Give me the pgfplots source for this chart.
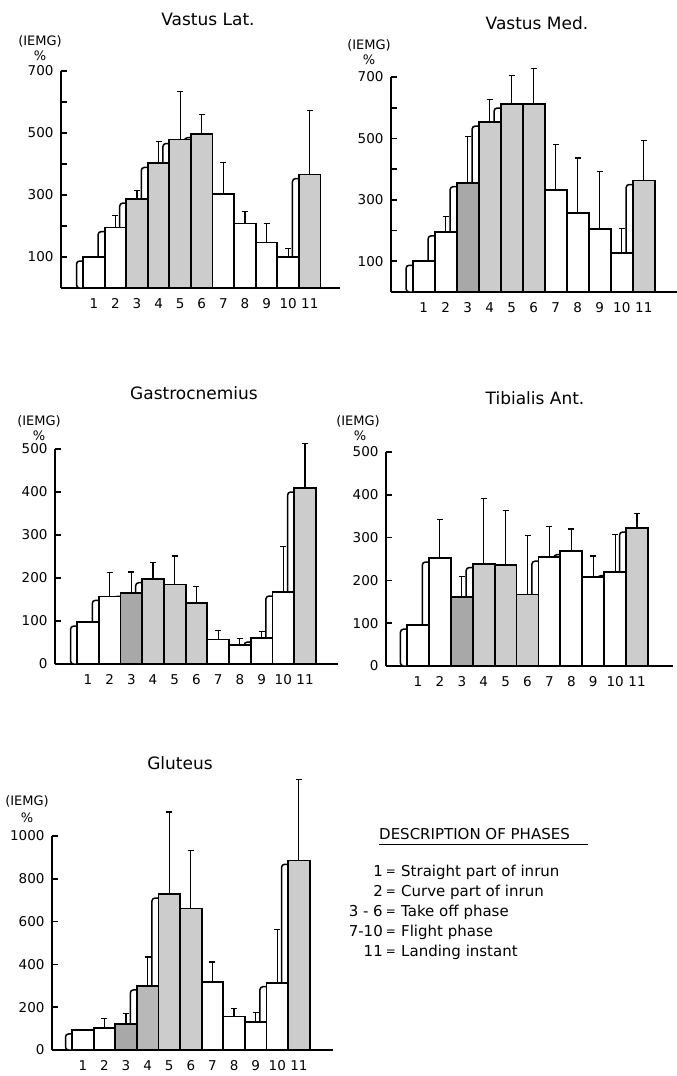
\documentclass[border=0pt]{standalone}
\usepackage{pgfplots}
\usepackage{pgfplotstable}
\pgfplotsset{compat=1.18}
\usepackage{fontspec}
\setmainfont{DejaVu Sans}

\newcommand\titlef{\fontsize{17}{20}\selectfont}
\newcommand\labf{\fontsize{13.5}{15}\selectfont}
\newcommand\unitf{\fontsize{13}{15}\selectfont}
\newcommand\legf{\fontsize{15}{18}\selectfont}

\definecolor{lgrey}{gray}{0.80}
\definecolor{dgrey}{gray}{0.66}
\definecolor{mgrey}{gray}{0.72}

\pgfplotsset{
  emg/.style={
    scale only axis, anchor=south west,
    axis x line=bottom, axis y line=left,
    axis line style={-, line width=2pt},
    xtick={1,...,11},
    x tick style={draw=none},
    tick align=inside,
    y tick style={line width=1.6pt, black},
    major tick length=6pt,
    ymin=0, clip=false,
    ticklabel style={font=\labf},
    /pgf/number format/assume math mode=true,
    /pgf/number format/1000 sep={},
    yticklabel style={xshift=-4pt},
    xticklabel style={yshift=-7pt},
  },
  shade/.style={ybar, bar width=1, bar shift=0, draw=black, fill=white, line width=1.5pt, rounded corners=3pt, forget plot},
  mbar/.style={ybar, bar width=1, bar shift=0, draw=black, line width=1.8pt, forget plot},
  errb/.style={draw=none, mark=none, forget plot,
    error bars/.cd, y dir=plus, y explicit, error mark=-,
    error bar style={draw=black, line width=1.2pt},
    error mark options={rotate=90, draw=black, line width=1.2pt, mark size=3pt}},
}

\pgfplotstableread{
x v
1 100
2 195
3 287
4 402
5 479
6 498
7 302
8 208
9 147
10 101
11 366
}\tVL
\pgfplotstableread{
x v
1 100
2 196
3 356
4 553
5 612
6 612
7 332
8 256
9 206
10 128
11 363
}\tVM
\pgfplotstableread{
x v
1 97
2 157
3 166
4 198
5 185
6 142
7 57
8 45
9 60
10 167
11 409
}\tGA
\pgfplotstableread{
x v
1 95
2 252
3 161
4 239
5 236
6 167
7 254
8 269
9 208
10 220
11 322
}\tTA
\pgfplotstableread{
x v
1 93
2 104
3 121
4 299
5 728
6 661
7 319
8 157
9 131
10 314
11 886
}\tGL

\begin{document}
\begin{tikzpicture}
\useasboundingbox (0pt,0pt) rectangle (677pt,-1076pt);

% ---------- Vastus Lat.
\begin{axis}[emg, at={(61pt,-288pt)}, width=279pt, height=217pt,
  xmin=-0.519, xmax=12.4, ymax=700,
  ytick={100,200,...,700}, yticklabels={100,,300,,500,,700}]
\addplot[shade] table[x expr=\thisrow{x}-0.3, y expr=\thisrow{v}-13] {\tVL};
\addplot[mbar, fill=white] table[x=x, y=v] {\tVL};
\addplot[mbar, fill=lgrey] coordinates {(3,287) (4,402) (5,479) (6,498) (11,366)};
\addplot[errb] coordinates {(2,195) +- (0,38) (3,287) +- (0,27) (4,402) +- (0,70)
  (5,479) +- (0,154) (6,498) +- (0,62) (7,302) +- (0,102) (8,208) +- (0,38)
  (9,147) +- (0,62) (10,101) +- (0,26) (11,366) +- (0,206)};
\end{axis}

% ---------- Vastus Med.
\begin{axis}[emg, at={(391pt,-292pt)}, width=286pt, height=215pt,
  xmin=-0.486, xmax=12.51, ymax=700,
  ytick={100,200,...,700}, yticklabels={100,,300,,500,,700}]
\addplot[shade] table[x expr=\thisrow{x}-0.3, y expr=\thisrow{v}-13] {\tVM};
\addplot[mbar, fill=white] table[x=x, y=v] {\tVM};
\addplot[mbar, fill=dgrey] coordinates {(3,356)};
\addplot[mbar, fill=lgrey] coordinates {(4,553) (5,612) (6,612) (11,363)};
\addplot[errb] coordinates {(2,196) +- (0,49) (3,356) +- (0,150) (4,553) +- (0,74)
  (5,612) +- (0,93) (6,612) +- (0,115) (7,332) +- (0,149) (8,256) +- (0,180)
  (9,206) +- (0,186) (10,128) +- (0,78) (11,363) +- (0,131)};
\end{axis}

% ---------- Gastrocnemius
\begin{axis}[emg, at={(55pt,-664pt)}, width=283pt, height=215pt,
  xmin=-0.516, xmax=12.52, ymax=500,
  ytick={0,100,...,500}]
\addplot[shade] table[x expr=\thisrow{x}-0.3, y expr=\thisrow{v}-9] {\tGA};
\addplot[mbar, fill=white] table[x=x, y=v] {\tGA};
\addplot[mbar, fill=dgrey] coordinates {(3,166)};
\addplot[mbar, fill=lgrey] coordinates {(4,198) (5,185) (6,142) (11,409)};
\addplot[errb] coordinates {(2,157) +- (0,55) (3,166) +- (0,48) (4,198) +- (0,38)
  (5,185) +- (0,66) (6,142) +- (0,38) (7,57) +- (0,21) (8,45) +- (0,15)
  (9,60) +- (0,15) (10,167) +- (0,107) (11,409) +- (0,103)};
\end{axis}

% ---------- Tibialis Ant.
\begin{axis}[emg, at={(386pt,-666pt)}, width=287pt, height=214pt,
  xmin=-0.46, xmax=12.64, ymax=500,
  ytick={0,100,...,500}]
\addplot[shade] table[x expr=\thisrow{x}-0.3, y expr=\thisrow{v}-9] {\tTA};
\addplot[mbar, fill=white] table[x=x, y=v] {\tTA};
\addplot[mbar, fill=dgrey] coordinates {(3,161)};
\addplot[mbar, fill=lgrey] coordinates {(4,239) (5,236) (6,167) (11,322)};
\addplot[errb] coordinates {(2,252) +- (0,91) (3,161) +- (0,49) (4,239) +- (0,152)
  (5,236) +- (0,127) (6,167) +- (0,138) (7,254) +- (0,72) (8,269) +- (0,51)
  (9,208) +- (0,49) (10,220) +- (0,87) (11,322) +- (0,35)};
\end{axis}

% ---------- Gluteus
\begin{axis}[emg, at={(52pt,-1050pt)}, width=281pt, height=214pt,
  xmin=-0.426, xmax=12.58, ymax=1000,
  ytick={0,200,...,1000}]
\addplot[shade] table[x expr=\thisrow{x}-0.3, y expr=\thisrow{v}-18] {\tGL};
\addplot[mbar, fill=white] table[x=x, y=v] {\tGL};
\addplot[mbar, fill=dgrey] coordinates {(3,121)};
\addplot[mbar, fill=mgrey] coordinates {(4,299)};
\addplot[mbar, fill=lgrey] coordinates {(5,728) (6,661) (11,886)};
\addplot[errb] coordinates {(2,104) +- (0,42) (3,121) +- (0,50) (4,299) +- (0,136)
  (5,728) +- (0,384) (6,661) +- (0,272) (7,319) +- (0,92) (8,157) +- (0,37)
  (9,131) +- (0,43) (10,314) +- (0,251) (11,886) +- (0,377)};
\end{axis}

% ---------- titles and unit labels
\node[font=\titlef] at (208pt,-19pt) {Vastus Lat.};
\node[font=\titlef] at (537pt,-23pt) {Vastus Med.};
\node[font=\titlef] at (194pt,-393pt) {Gastrocnemius};
\node[font=\titlef] at (535pt,-398pt) {Tibialis Ant.};
\node[font=\titlef] at (180pt,-763pt) {Gluteus};

\node[font=\unitf] at (40pt,-41pt) {(IEMG)};
\node[font=\unitf] at (40pt,-56pt) {\%};
\node[font=\unitf] at (369pt,-45pt) {(IEMG)};
\node[font=\unitf] at (369pt,-60pt) {\%};
\node[font=\unitf] at (39pt,-421pt) {(IEMG)};
\node[font=\unitf] at (39pt,-436pt) {\%};
\node[font=\unitf] at (358pt,-421pt) {(IEMG)};
\node[font=\unitf] at (360pt,-436pt) {\%};
\node[font=\unitf] at (27pt,-801pt) {(IEMG)};
\node[font=\unitf] at (27pt,-818pt) {\%};

% ---------- description of phases
\node[font=\legf, anchor=base west, inner sep=0pt] at (379pt,-839pt) {DESCRIPTION OF PHASES};
\draw[line width=1pt] (379pt,-844pt) -- (588pt,-844pt);
\foreach \a/\b/\yy in {1/Straight part of inrun/876, 2/Curve part of inrun/896,
  3 - 6/Take off phase/916, 7-10/Flight phase/936, 11/Landing instant/956}{
  \node[font=\legf, anchor=base east, inner sep=0pt] at (383pt,-\yy pt) {\a};
  \node[font=\fontsize{12}{14}\selectfont, anchor=base, inner sep=0pt, yshift=0.8pt] at (391pt,-\yy pt) {=};
  \node[font=\legf, anchor=base west, inner sep=0pt] at (401pt,-\yy pt) {\b};
}
\end{tikzpicture}
\end{document}
